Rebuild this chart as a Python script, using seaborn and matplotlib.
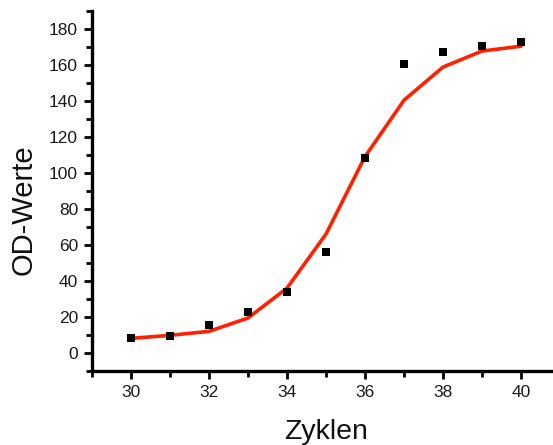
import matplotlib
matplotlib.use("Agg")
import matplotlib.pyplot as plt
from matplotlib.ticker import MultipleLocator
import seaborn as sns
import pandas as pd

# Measured OD values per cycle and the fitted sigmoid curve
zyklen = [30, 31, 32, 33, 34, 35, 36, 37, 38, 39, 40]
od_messwerte = [8.1, 9.6, 15.8, 22.5, 34.1, 55.9, 108.5, 160.2, 166.8, 170.3, 172.5]
od_fit = [8.1, 9.8, 12.0, 19.4, 36.0, 66.0, 109.0, 140.3, 158.7, 167.6, 170.3]

df = pd.DataFrame({"Zyklen": zyklen, "Messwert": od_messwerte, "Fit": od_fit})

sns.set_theme(style="white")
plt.rcParams["font.family"] = ["Liberation Sans", "DejaVu Sans"]

W, H = 553, 445
fig = plt.figure(figsize=(W / 100, H / 100), dpi=100)
ax = fig.add_axes([92 / W, (H - 371) / H, 468 / W, (371 - 10.7) / H])

sns.lineplot(data=df, x="Zyklen", y="Fit", ax=ax, color="#ff2000",
             linewidth=2.6, zorder=2)
sns.scatterplot(data=df, x="Zyklen", y="Messwert", ax=ax, color="black",
                marker="s", s=40, linewidth=0, zorder=3)

ax.set_xlim(29, 41)
ax.set_ylim(-10, 190)
ax.xaxis.set_major_locator(MultipleLocator(2))
ax.xaxis.set_minor_locator(MultipleLocator(1))
ax.yaxis.set_major_locator(MultipleLocator(20))
ax.yaxis.set_minor_locator(MultipleLocator(10))

for side in ("top", "right"):
    ax.spines[side].set_visible(False)
for side in ("left", "bottom"):
    ax.spines[side].set_linewidth(2.4)
    ax.spines[side].set_color("black")

ax.tick_params(which="major", direction="out", length=6, width=2,
               color="black", labelsize=12.5, labelcolor="#1a1a1a", pad=4,
               left=True, bottom=True)
ax.tick_params(which="minor", direction="out", length=4, width=2,
               color="black", left=True, bottom=True)

ax.set_xlabel("Zyklen", fontsize=20.5, labelpad=14, color="#111111")
ax.set_ylabel("OD-Werte", fontsize=21, color="#111111")
ax.yaxis.set_label_coords(-0.116, 0.447)
ax.grid(False)

fig.savefig("out.png", dpi=100)
